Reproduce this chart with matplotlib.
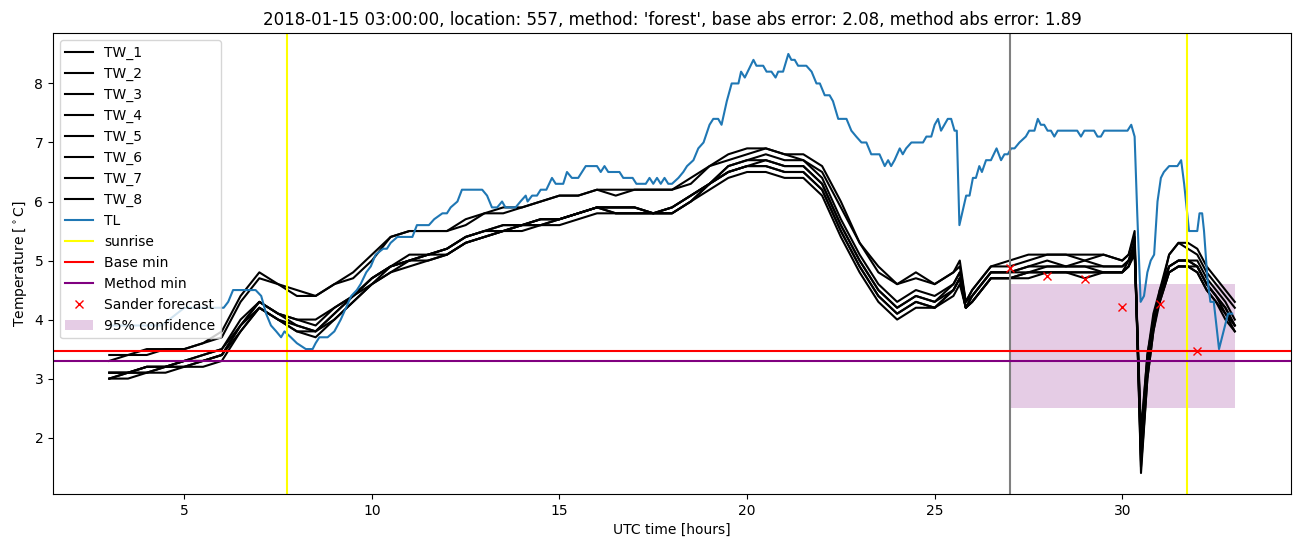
"""Temperature forecast plot for one location with TW/TL sensor series."""
import matplotlib
import matplotlib.pyplot as plt

matplotlib.use("Agg")

TITLE = ("2018-01-15 03:00:00, location: 557, method: 'forest', "
         "base abs error: 2.08, method abs error: 1.89")

TL_TIME = [3.0, 4.4, 4.6, 4.8, 5.0, 6.05, 6.17, 6.3, 6.8, 6.9, 7.05, 7.18, 7.31, 7.45,
           7.58, 7.67, 7.84, 8.0, 8.24, 8.42, 8.5, 8.6, 8.82, 9.0, 9.17, 9.31, 9.45,
           9.6, 9.7, 9.85, 9.97, 10.1, 10.3, 10.4, 10.5, 10.68, 11.08, 11.2, 11.52,
           11.66, 11.88, 12.0, 12.1, 12.28, 12.4, 12.94, 13.07, 13.2, 13.34, 13.47,
           13.56, 13.83, 13.96, 14.1, 14.15, 14.27, 14.4, 14.5, 14.65, 14.8, 14.9,
           15.1, 15.2, 15.33, 15.5, 15.7, 16.0, 16.1, 16.2, 16.3, 16.6, 16.7, 16.95,
           17.05, 17.3, 17.4, 17.5, 17.6, 17.7, 17.8, 17.9, 18.0, 18.17, 18.3, 18.4,
           18.57, 18.7, 18.84, 19.0, 19.1, 19.23, 19.32, 19.46, 19.59, 19.77, 19.84,
           19.94, 20.17, 20.25, 20.43, 20.52, 20.65, 20.76, 20.83, 20.96, 21.1, 21.18,
           21.27, 21.36, 21.58, 21.72, 21.85, 21.94, 22.07, 22.2, 22.29, 22.43, 22.65,
           22.78, 22.91, 23.05, 23.18, 23.31, 23.53, 23.67, 23.76, 23.84, 23.93, 24.07,
           24.15, 24.24, 24.38, 24.69, 24.78, 24.91, 25.0, 25.09, 25.17, 25.35, 25.44,
           25.53, 25.59, 25.66, 25.84, 25.93, 26.02, 26.1, 26.19, 26.26, 26.37, 26.5,
           26.65, 26.77, 26.86, 26.95, 27.04, 27.13, 27.26, 27.43, 27.52, 27.66, 27.75,
           27.83, 27.92, 28.01, 28.1, 28.19, 28.28, 28.8, 28.9, 28.99, 29.25, 29.34,
           29.43, 29.52, 30.14, 30.24, 30.33, 30.4, 30.49, 30.58, 30.67, 30.76, 30.85,
           30.94, 31.03, 31.11, 31.25, 31.47, 31.57, 31.65, 31.73, 31.78, 32.0, 32.06,
           32.13, 32.18, 32.27, 32.35, 32.44, 32.58, 32.82, 32.93]
TL = [3.9, 3.9, 4.0, 4.1, 4.2, 4.2, 4.3, 4.5, 4.5, 4.5, 4.4, 4.1, 3.9, 3.8,
      3.7, 3.8, 3.7, 3.6, 3.5, 3.5, 3.6, 3.7, 3.7, 3.8, 4.0, 4.2, 4.4,
      4.5, 4.6, 4.8, 4.9, 5.1, 5.2, 5.2, 5.3, 5.4, 5.4, 5.6, 5.6,
      5.7, 5.8, 5.8, 5.9, 6.0, 6.2, 6.2, 6.1, 5.9, 5.9, 6.0,
      5.9, 5.9, 6.0, 6.1, 6.0, 6.1, 6.1, 6.2, 6.2, 6.4, 6.3,
      6.3, 6.5, 6.4, 6.4, 6.6, 6.6, 6.5, 6.6, 6.5, 6.5, 6.4, 6.4,
      6.3, 6.3, 6.4, 6.3, 6.4, 6.3, 6.4, 6.3, 6.3, 6.4, 6.5, 6.6,
      6.7, 6.9, 7.0, 7.3, 7.4, 7.4, 7.3, 7.7, 8.0, 8.0, 8.2,
      8.1, 8.4, 8.3, 8.3, 8.2, 8.2, 8.1, 8.2, 8.2, 8.5, 8.4,
      8.4, 8.3, 8.3, 8.2, 8.0, 8.0, 7.8, 7.8, 7.7, 7.4, 7.4,
      7.2, 7.1, 7.0, 7.0, 6.8, 6.8, 6.6, 6.7, 6.6, 6.7, 6.9,
      6.8, 6.9, 7.0, 7.0, 7.1, 7.1, 7.3, 7.4, 7.2, 7.4, 7.4,
      7.2, 7.2, 5.6, 6.1, 6.1, 6.4, 6.4, 6.6, 6.5, 6.7, 6.7,
      6.9, 6.7, 6.8, 6.8, 6.9, 6.9, 7.0, 7.1, 7.2, 7.2, 7.4,
      7.3, 7.3, 7.2, 7.2, 7.1, 7.2, 7.2, 7.1, 7.2, 7.2, 7.1,
      7.1, 7.2, 7.2, 7.3, 7.1, 5.8, 4.3, 4.4, 4.8, 5.0, 5.1,
      6.0, 6.4, 6.5, 6.6, 6.6, 6.7, 6.3, 5.8, 5.5, 5.5, 5.8,
      5.8, 5.5, 4.7, 4.3, 4.3, 3.5, 4.1, 4.1]

# TW sensors, all on one shared time grid
TW_TIME = [3.0, 3.5, 4.0, 4.5, 5.0, 5.5, 6.0, 6.5, 7.0, 7.5, 8.0, 8.5, 9.0, 9.5, 10.0,
           10.5, 11.0, 11.5, 12.0, 12.5, 13.0, 13.5, 14.0, 14.5, 15.0, 15.5, 16.0,
           16.5, 17.0, 17.5, 18.0, 18.5, 19.0, 19.5, 20.0, 20.5, 21.0, 21.5, 22.0,
           22.5, 23.0, 23.5, 24.0, 24.5, 25.0, 25.5, 25.67, 25.83, 26.0, 26.5, 27.0,
           27.5, 28.0, 28.5, 29.0, 29.5, 30.0, 30.17, 30.33, 30.5, 30.67, 30.83, 31.0,
           31.25, 31.5, 31.75, 32.0, 32.25, 32.5, 32.75, 33.0]
TW_1 = [3.4, 3.4, 3.5, 3.5, 3.5, 3.6, 3.8, 4.4, 4.8, 4.6, 4.5, 4.4, 4.6, 4.8, 5.1,
        5.4, 5.5, 5.5, 5.5, 5.7, 5.8, 5.9, 5.9, 6.0, 6.1, 6.1, 6.2,
        6.2, 6.2, 6.2, 6.2, 6.4, 6.6, 6.8, 6.9, 6.9, 6.8, 6.8, 6.6,
        6.0, 5.3, 4.9, 4.6, 4.8, 4.6, 4.8, 5.0, 4.3, 4.5, 4.9, 5.0,
        5.1, 5.1, 5.1, 5.1, 5.1, 5.0, 5.1, 5.5, 1.4, 3.0, 3.8, 4.4,
        5.1, 5.3, 5.3, 5.2, 4.9, 4.7, 4.5, 4.3]
TW_2 = [3.3, 3.4, 3.4, 3.5, 3.5, 3.6, 3.7, 4.3, 4.7, 4.6, 4.4, 4.4, 4.6, 4.7, 5.0,
        5.4, 5.5, 5.5, 5.5, 5.6, 5.8, 5.8, 5.9, 6.0, 6.1, 6.1, 6.2,
        6.1, 6.2, 6.2, 6.2, 6.3, 6.6, 6.7, 6.8, 6.9, 6.8, 6.7, 6.5,
        5.9, 5.3, 4.8, 4.6, 4.7, 4.6, 4.8, 4.9, 4.3, 4.5, 4.9, 4.9,
        5.0, 5.1, 5.1, 5.0, 5.1, 5.0, 5.1, 5.4, 1.6, 3.1, 3.9, 4.5,
        5.1, 5.3, 5.2, 5.1, 4.8, 4.6, 4.4, 4.2]
TW_3 = [3.1, 3.1, 3.2, 3.2, 3.3, 3.4, 3.5, 4.0, 4.3, 4.1, 4.0, 4.0, 4.2, 4.4, 4.7,
        4.9, 5.1, 5.1, 5.2, 5.4, 5.5, 5.6, 5.6, 5.7, 5.7, 5.8, 5.9,
        5.9, 5.9, 5.8, 5.9, 6.1, 6.3, 6.6, 6.7, 6.8, 6.7, 6.7, 6.4,
        5.7, 5.1, 4.6, 4.3, 4.5, 4.4, 4.6, 4.8, 4.2, 4.4, 4.8, 4.8,
        4.9, 5.0, 4.9, 5.0, 4.9, 4.9, 5.0, 5.3, 1.8, 3.2, 3.9, 4.4,
        4.9, 5.0, 5.0, 5.0, 4.7, 4.5, 4.3, 4.0]
TW_4 = [3.0, 3.1, 3.1, 3.2, 3.2, 3.3, 3.4, 3.9, 4.2, 4.0, 3.9, 3.8, 4.1, 4.4, 4.6,
        4.9, 5.0, 5.1, 5.1, 5.3, 5.4, 5.5, 5.6, 5.6, 5.7, 5.8, 5.9,
        5.8, 5.8, 5.8, 5.8, 6.0, 6.3, 6.5, 6.6, 6.6, 6.5, 6.5, 6.2,
        5.5, 4.9, 4.4, 4.1, 4.3, 4.2, 4.5, 4.7, 4.2, 4.3, 4.7, 4.7,
        4.8, 4.8, 4.8, 4.8, 4.8, 4.8, 4.9, 5.2, 1.9, 3.3, 4.0, 4.4,
        4.8, 4.9, 4.9, 4.9, 4.6, 4.4, 4.2, 3.9]
TW_5 = [3.0, 3.0, 3.1, 3.1, 3.2, 3.2, 3.3, 3.8, 4.2, 4.0, 3.8, 3.7, 4.0, 4.3, 4.6,
        4.8, 4.9, 5.0, 5.1, 5.3, 5.4, 5.5, 5.5, 5.6, 5.6, 5.7, 5.8,
        5.8, 5.8, 5.8, 5.8, 6.0, 6.2, 6.4, 6.5, 6.5, 6.4, 6.4, 6.1,
        5.4, 4.8, 4.3, 4.0, 4.2, 4.2, 4.4, 4.6, 4.2, 4.3, 4.7, 4.7,
        4.7, 4.8, 4.8, 4.7, 4.8, 4.8, 4.9, 5.1, 2.0, 3.4, 4.0, 4.3,
        4.8, 4.9, 4.9, 4.8, 4.5, 4.3, 4.0, 3.8]
TW_6 = [3.1, 3.1, 3.2, 3.2, 3.3, 3.4, 3.5, 3.9, 4.3, 4.1, 4.0, 3.9, 4.2, 4.4, 4.7,
        4.9, 5.0, 5.1, 5.2, 5.4, 5.5, 5.6, 5.6, 5.7, 5.7, 5.8, 5.9,
        5.9, 5.9, 5.8, 5.9, 6.1, 6.3, 6.5, 6.6, 6.7, 6.6, 6.6, 6.3,
        5.6, 5.0, 4.5, 4.2, 4.4, 4.3, 4.5, 4.7, 4.2, 4.4, 4.8, 4.8,
        4.8, 4.9, 4.9, 4.9, 4.8, 4.8, 5.0, 5.2, 1.7, 3.2, 3.9, 4.4,
        4.9, 5.0, 5.0, 4.9, 4.6, 4.4, 4.2, 3.9]
TW_7 = [3.0, 3.1, 3.1, 3.2, 3.2, 3.3, 3.4, 3.8, 4.2, 4.0, 3.8, 3.8, 4.0, 4.3, 4.6,
        4.8, 5.0, 5.0, 5.1, 5.3, 5.4, 5.5, 5.6, 5.6, 5.7, 5.8, 5.9,
        5.8, 5.8, 5.8, 5.8, 6.0, 6.3, 6.5, 6.6, 6.6, 6.5, 6.5, 6.2,
        5.5, 4.9, 4.4, 4.1, 4.3, 4.2, 4.5, 4.7, 4.2, 4.3, 4.7, 4.7,
        4.8, 4.8, 4.8, 4.8, 4.8, 4.8, 4.9, 5.2, 2.1, 3.4, 4.1, 4.5,
        4.9, 5.0, 5.0, 4.9, 4.6, 4.4, 4.1, 3.9]
TW_8 = [3.1, 3.1, 3.2, 3.2, 3.3, 3.3, 3.4, 3.9, 4.3, 4.1, 3.9, 3.8, 4.1, 4.4, 4.7,
        4.9, 5.0, 5.1, 5.2, 5.4, 5.5, 5.5, 5.6, 5.7, 5.7, 5.8, 5.9,
        5.9, 5.9, 5.8, 5.9, 6.1, 6.3, 6.6, 6.7, 6.7, 6.6, 6.6, 6.3,
        5.6, 5.0, 4.5, 4.2, 4.4, 4.3, 4.6, 4.8, 4.3, 4.4, 4.8, 4.8,
        4.9, 4.9, 4.9, 4.9, 4.9, 4.9, 5.0, 5.3, 1.5, 3.0, 3.8, 4.3,
        4.8, 4.9, 4.9, 4.8, 4.5, 4.3, 4.1, 3.8]
TW_SERIES = [TW_1, TW_2, TW_3, TW_4, TW_5, TW_6, TW_7, TW_8]

SUNRISE = [7.74, 31.73]
FORECAST_START = 27.0
BASE_MIN = 3.47
METHOD_MIN = 3.29

SANDER_TIME = [27, 28, 29, 30, 31, 32]
SANDER_TEMP = [4.88, 4.73, 4.69, 4.22, 4.27, 3.47]

CONF_START, CONF_END = 27.0, 33.0
CONF_LOW, CONF_HIGH = 2.5, 4.6

fig, ax = plt.subplots(figsize=(13.02, 5.47), dpi=100)
fig.subplots_adjust(left=0.0407, right=0.9916, top=0.9397, bottom=0.0969)

for i, tw in enumerate(TW_SERIES):
    ax.plot(TW_TIME, tw, color="black", label=f"TW_{i + 1}")
ax.plot(TL_TIME, TL, color="C0", label="TL")

ax.axvline(SUNRISE[0], color="yellow", label="sunrise")
ax.axvline(SUNRISE[1], color="yellow")
ax.axvline(FORECAST_START, color="gray")
ax.axhline(BASE_MIN, color="red", label="Base min")
ax.axhline(METHOD_MIN, color="purple", label="Method min")
ax.plot(SANDER_TIME, SANDER_TEMP, "rx", label="Sander forecast")
ax.fill_between([CONF_START, CONF_END], CONF_LOW, CONF_HIGH,
                color="purple", alpha=0.2, linewidth=0, label="95% confidence")

ax.set_title(TITLE)
ax.set_xlabel("UTC time [hours]")
ax.set_ylabel(r"Temperature [$^\circ$C]")
ax.legend(loc="upper left")

fig.savefig("out.png")
